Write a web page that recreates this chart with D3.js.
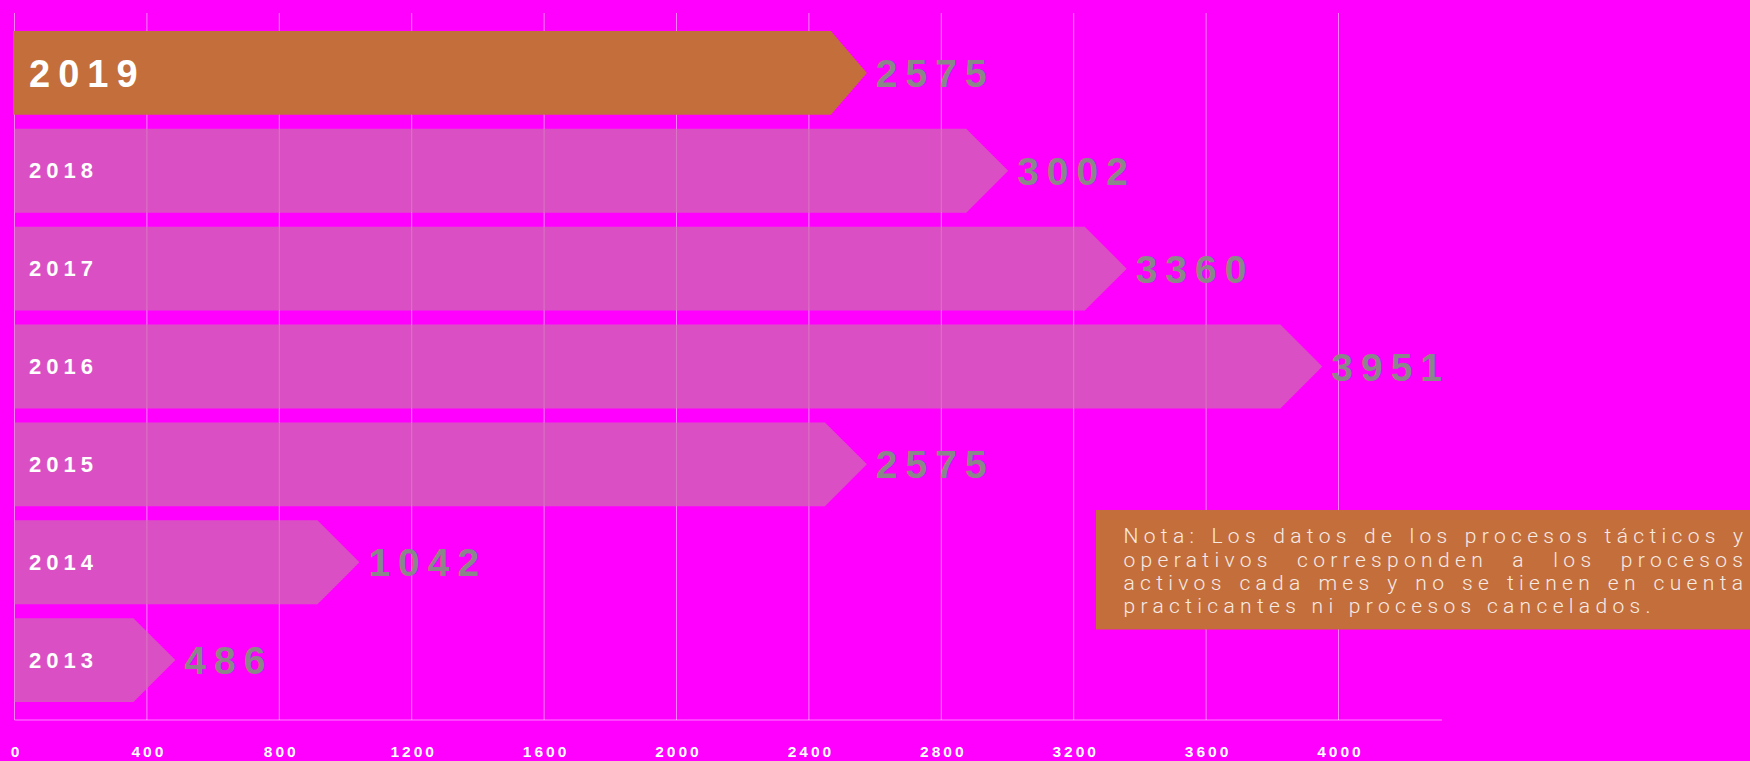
<!DOCTYPE html>
<html>
<head>
<meta charset="utf-8">
<script src="https://cdn.jsdelivr.net/npm/d3@7"></script>
<style>
  html, body { margin: 0; padding: 0; background: #ff00ff; }
  svg { display: block; }
</style>
</head>
<body>
<svg id="chart" width="1750" height="761"></svg>
<script>
// Procesos por año
const years = ["2019", "2018", "2017", "2016", "2015", "2014", "2013"];
const values = [2575, 3002, 3360, 3951, 2575, 1042, 486];
const highlightYear = "2019";
const tickValues = [0, 400, 800, 1200, 1600, 2000, 2400, 2800, 3200, 3600, 4000];
const tickLabels = ["0", "400", "800", "1200", "1600", "2000", "2400", "2800", "3200", "3600", "4000"];
const noteLines = [
  "Nota: Los datos de los procesos tácticos y",
  "operativos corresponden a los procesos",
  "activos cada mes y no se tienen en cuenta",
  "practicantes ni procesos cancelados."
];

const W = 1750, H = 761;
const BG = "#ff00ff";
const ORANGE = "#c46e3c";
const GRID = "rgba(255,255,255,0.5)";
const VALUE_GRAY = "#8a868a";
const BOLD = "'Liberation Sans', Arial, Helvetica, sans-serif";
const LIGHT = "Roboto, 'Open Sans', 'Liberation Sans', sans-serif";

const svg = d3.select("#chart");
svg.append("rect").attr("width", W).attr("height", H).attr("fill", BG);

const x = d3.scaleLinear().domain([0, 4000]).range([14.5, 1338.5]);
const y = d3.scaleBand().domain(years).range([24, 709]).paddingInner(1 / 7).paddingOuter(1 / 14);

const gridTop = 13, axisY = 720, axisEnd = 1442;

// vertical gridlines
svg.append("g").selectAll("line").data(tickValues).join("line")
  .attr("x1", d => x(d)).attr("x2", d => x(d))
  .attr("y1", gridTop).attr("y2", axisY)
  .attr("stroke", GRID).attr("stroke-width", 1);

// baseline
svg.append("line")
  .attr("x1", x(0)).attr("x2", axisEnd)
  .attr("y1", axisY).attr("y2", axisY)
  .attr("stroke", GRID).attr("stroke-width", 1);

// tick labels
svg.append("g").selectAll("text").data(tickValues).join("text")
  .attr("x", d => x(d) + 2)
  .attr("y", 757)
  .attr("text-anchor", "middle")
  .attr("fill", "#ffffff")
  .attr("font-family", BOLD)
  .attr("font-weight", "bold")
  .attr("font-size", 15.5)
  .attr("letter-spacing", 3)
  .text((d, i) => tickLabels[i]);

const rows = years.map((yr, i) => ({ year: yr, value: values[i], hi: yr === highlightYear }));

function arrowPath(d) {
  const bw = y.bandwidth();
  const y0 = y(d.year), y1 = y0 + bw, yc = y0 + bw / 2;
  const xt = x(d.value);
  const tip = d.hi ? 36 : bw / 2;
  const x0 = d.hi ? x(0) - 1.5 : x(0);
  const xr = xt - tip;
  return `M${x0},${y0}H${xr}L${xt},${yc}L${xr},${y1}H${x0}Z`;
}

// bars (arrows)
svg.append("g").selectAll("path").data(rows).join("path")
  .attr("d", arrowPath)
  .attr("fill", d => d.hi ? ORANGE : "rgb(202,114,171)")
  .attr("fill-opacity", d => d.hi ? 1 : 0.7);

// year labels inside bars
svg.append("g").selectAll("text").data(rows).join("text")
  .attr("x", 29)
  .attr("y", d => y(d.year) + y.bandwidth() / 2 + (d.hi ? 14.5 : 7.5))
  .attr("fill", "#ffffff")
  .attr("font-family", BOLD)
  .attr("font-weight", "bold")
  .attr("font-size", d => d.hi ? 38 : 22)
  .attr("letter-spacing", d => d.hi ? 8 : 5)
  .text(d => d.year);

// value labels after arrow tips
svg.append("g").selectAll("text").data(rows).join("text")
  .attr("x", d => x(d.value) + 9)
  .attr("y", d => y(d.year) + y.bandwidth() / 2 + 14)
  .attr("fill", VALUE_GRAY)
  .attr("font-family", BOLD)
  .attr("font-weight", "bold")
  .attr("font-size", 39)
  .attr("letter-spacing", 8)
  .text(d => d.value);

// note box
const note = svg.append("g");
note.append("rect")
  .attr("x", 1096).attr("y", 510).attr("width", W - 1096).attr("height", 119.5)
  .attr("fill", ORANGE);

const noteX = 1123.5, noteRight = 1743, noteFirstBase = 543.3, noteLead = 23.35;
const noteSize = 21;

// letter spacing chosen so the last (unjustified) line spans its width
const probe = note.append("text")
  .attr("font-family", LIGHT).attr("font-weight", 300).attr("font-size", noteSize)
  .text(noteLines[3]);
const natural = probe.node().getComputedTextLength();
probe.remove();
const lastWidth = 527;
const ls = Math.max(0, (lastWidth - natural) / (noteLines[3].length - 1));

noteLines.forEach((line, li) => {
  const baseY = noteFirstBase + li * noteLead;
  const words = line.split(" ");
  const t = note.append("text")
    .attr("y", baseY)
    .attr("fill", "#f6ebe4")
    .attr("font-family", LIGHT)
    .attr("font-weight", 300)
    .attr("font-size", noteSize)
    .attr("letter-spacing", ls);
  if (li === noteLines.length - 1) {
    t.attr("x", noteX).text(line);
    return;
  }
  // justified line: measure each word, spread the remaining space evenly
  const spans = words.map(w => t.append("tspan").text(w));
  const widths = spans.map(s => s.node().getComputedTextLength());
  const total = d3.sum(widths);
  const gap = (noteRight + ls - noteX - total) / (words.length - 1);
  let cx = noteX;
  spans.forEach((s, i) => {
    s.attr("x", cx).attr("y", baseY);
    cx += widths[i] + gap;
  });
});
</script>
</body>
</html>
